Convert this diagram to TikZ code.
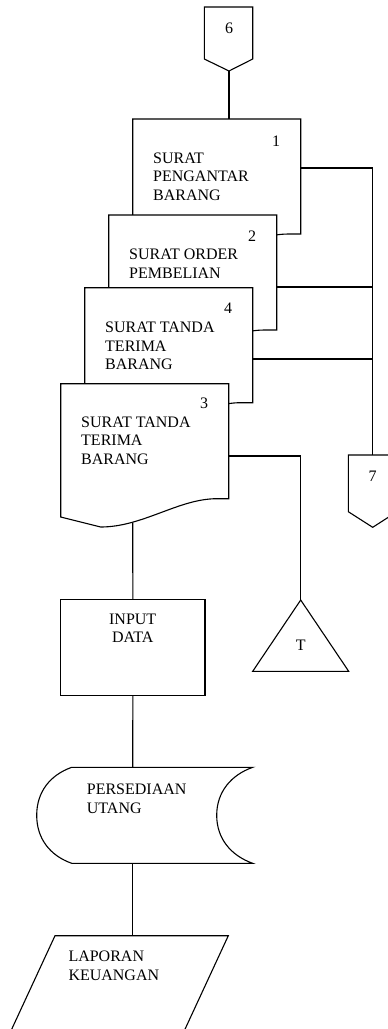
\documentclass[tikz,border=0pt]{standalone}
\usepackage{fontspec}
\setmainfont{Liberation Serif}
\begin{document}
\begin{tikzpicture}[x=1pt,y=-1pt,
  shp/.style={draw=black,line width=1.1pt,fill=white,line join=miter},
  con/.style={draw=black,line width=1.1pt},
  lbl/.style={inner sep=0pt,anchor=north west,align=left,font=\fontsize{16}{18.5}\selectfont},
  num/.style={inner sep=0pt,anchor=center,font=\fontsize{16}{18.5}\selectfont}]
\useasboundingbox (0,0) rectangle (388,1029);
\clip (0,0) rectangle (388,1029);
% off-page connector 6
\draw[shp] (204.3,7) -- (252.7,7) -- (252.7,59) -- (229,71) -- (204.3,59) -- cycle;
\node[num] (t6) at (229,28.3) {6};
\coordinate (c6) at (229,71);
% documents
\def\docshape#1#2{%
  \draw[shp] (#1,#2) -- ++(168,0) -- ++(0,115) -- ++(-12,0)
    .. controls +(-38,0) and +(42,0) .. ++(-116,28.3) -- ++(-40,-10) -- cycle;}
\docshape{132.7}{119}
\coordinate (d1top) at (229,119);
\coordinate (d1r) at (300.7,168);
\node[num] (n1) at (276,141) {1};
\node[lbl] (t1) at (153,152.7) {SURAT\\PENGANTAR\\BARANG};
\docshape{108.7}{215}
\coordinate (d2r) at (276.7,287);
\node[num] (n2) at (252,236) {2};
\node[lbl] (t2) at (129,248.7) {SURAT ORDER\\PEMBELIAN};
\docshape{84.7}{287.7}
\coordinate (d4r) at (252.7,359);
\node[num] (n4) at (228,308) {4};
\node[lbl] (t4) at (105,321.7) {SURAT TANDA\\TERIMA\\BARANG};
\docshape{60.7}{383.7}
\coordinate (d3r) at (229,456);
\coordinate (d3b) at (132.7,522.5);
\node[num] (n3) at (204,403.7) {3};
\node[lbl] (t3) at (81,416.4) {SURAT TANDA\\TERIMA\\BARANG};
% off-page connector 7
\draw[shp] (348.3,455) -- (397,455) -- (397,511.7) -- (372.7,527.3) -- (348.3,511.7) -- cycle;
\coordinate (c7) at (372.7,455);
\node[num] (t7) at (372.7,476) {7};
% triangle T
\draw[shp] (300.7,600) -- (348.7,671.3) -- (252.7,671.3) -- cycle;
\coordinate (tri) at (300.7,600);
\node[num] (tT) at (300.7,645.7) {T};
% input data
\node[shp,minimum width=144.3pt,minimum height=96pt,inner sep=0pt] (inp) at (132.85,647.3) {};
\node[lbl,anchor=north,align=center] (tinp) at (132.7,613.7) {INPUT\\DATA};
% stored data
\draw[shp] (252.7,767.3) -- (71.7,767.3) .. controls (50,775) and (36.7,792) .. (36.7,815.3)
  .. controls (36.7,838.6) and (50,855.6) .. (71.7,863.3) -- (252.7,863.3)
  .. controls (231,855.6) and (216.7,838.6) .. (216.7,815.3)
  .. controls (216.7,792) and (231,775) .. (252.7,767.3) -- cycle;
\coordinate (sdt) at (132.7,767.3);
\coordinate (sdb) at (132.7,863.3);
\node[lbl] (tsd) at (86.7,784) {PERSEDIAAN\\UTANG};
% report parallelogram
\draw[shp] (55,935.7) -- (228.3,935.7) -- (180,1040) -- (6.7,1040) -- cycle;
\coordinate (rep) at (132.7,935.7);
\node[lbl] (trep) at (68.3,950.7) {LAPORAN\\KEUANGAN};
% connectors
\draw[con] (c6) -- (d1top);
\draw[con] (d1r) -- (372.7,168) -- (c7);
\draw[con] (d2r) -- (372.7,287);
\draw[con] (d4r) -- (372.7,359);
\draw[con] (d3r) -- (300.7,456) -- (tri);
\draw[con] (d3b) -- (inp.north);
\draw[con] (inp.south) -- (sdt);
\draw[con] (sdb) -- (rep);
\end{tikzpicture}
\end{document}
